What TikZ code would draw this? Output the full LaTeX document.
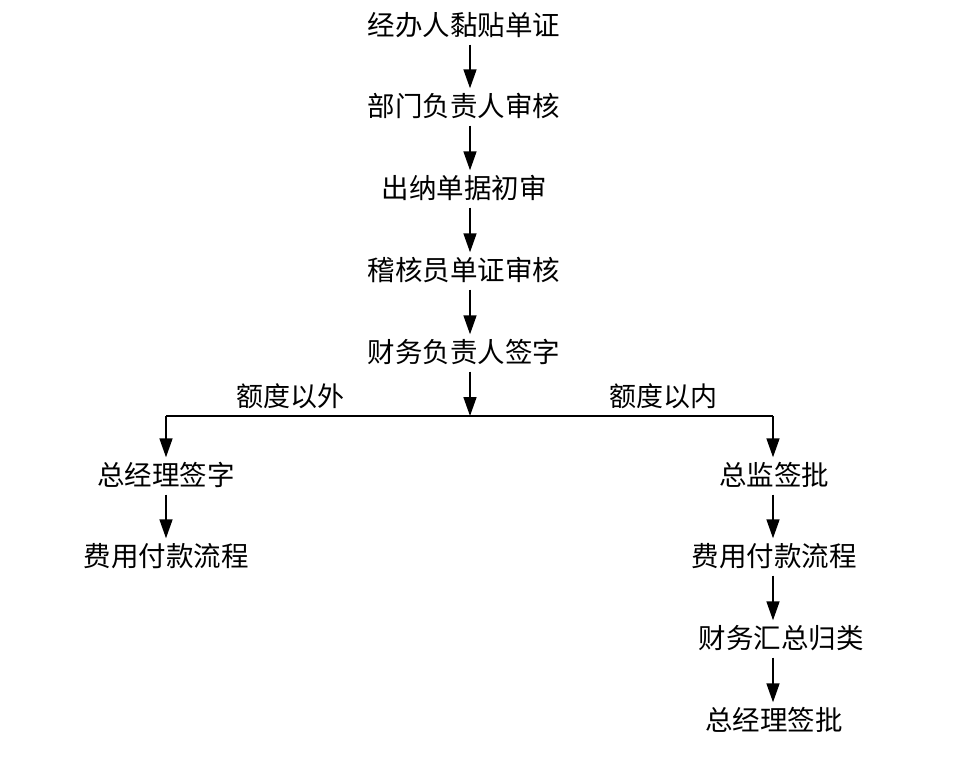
\documentclass[tikz,border=0pt]{standalone}
\usepackage{fontspec}
\setmainfont{Noto Sans CJK SC}
\usetikzlibrary{arrows.meta}
\begin{document}
\begin{tikzpicture}[x=1pt,y=-1pt,
  stepbox/.style={inner xsep=0pt,inner ysep=5pt,text height=21pt,text depth=4pt,font=\fontsize{27.5}{27.5}\selectfont},
  lbl/.style={inner sep=0pt,font=\fontsize{27}{27}\selectfont},
  arr/.style={line width=1.6pt,-{Triangle[width=13pt,length=19pt]},shorten >=2pt},
  ln/.style={line width=1.6pt}]
\path[fill=white] (0,0) rectangle (971,765);
\coordinate (ax) at (470,0);
\coordinate (lx) at (166,0);
\coordinate (rx) at (773,0);
\node[stepbox] (a) at (464,27) {经办人黏贴单证};
\node[stepbox] (b) at (464,108) {部门负责人审核};
\node[stepbox] (c) at (464,190) {出纳单据初审};
\node[stepbox] (d) at (464,272) {稽核员单证审核};
\node[stepbox] (e) at (464,354) {财务负责人签字};
\coordinate (split) at (470,416);
\coordinate (sl) at (166,416);
\coordinate (sr) at (773,416);
\node[lbl] (out) at (290,396) {额度以外};
\node[lbl] (in) at (663,396) {额度以内};
\node[stepbox] (l1) at (166,477) {总经理签字};
\node[stepbox] (l2) at (166,558) {费用付款流程};
\node[stepbox] (r1) at (774,477) {总监签批};
\node[stepbox] (r2) at (774,558) {费用付款流程};
\node[stepbox] (r3) at (781,640) {财务汇总归类};
\node[stepbox] (r4) at (774,722) {总经理签批};
\draw[arr] (a.south -| ax) -- (b.north -| ax);
\draw[arr] (b.south -| ax) -- (c.north -| ax);
\draw[arr] (c.south -| ax) -- (d.north -| ax);
\draw[arr] (d.south -| ax) -- (e.north -| ax);
\draw[arr,shorten >=0pt] (e.south -| ax) -- (split);
\draw[ln] (sl) -- (sr);
\draw[arr] (sl) -- (l1.north -| lx);
\draw[arr] (sr) -- (r1.north -| rx);
\draw[arr] (l1.south -| lx) -- (l2.north -| lx);
\draw[arr] (r1.south -| rx) -- (r2.north -| rx);
\draw[arr] (r2.south -| rx) -- (r3.north -| rx);
\draw[arr] (r3.south -| rx) -- (r4.north -| rx);
\end{tikzpicture}
\end{document}
